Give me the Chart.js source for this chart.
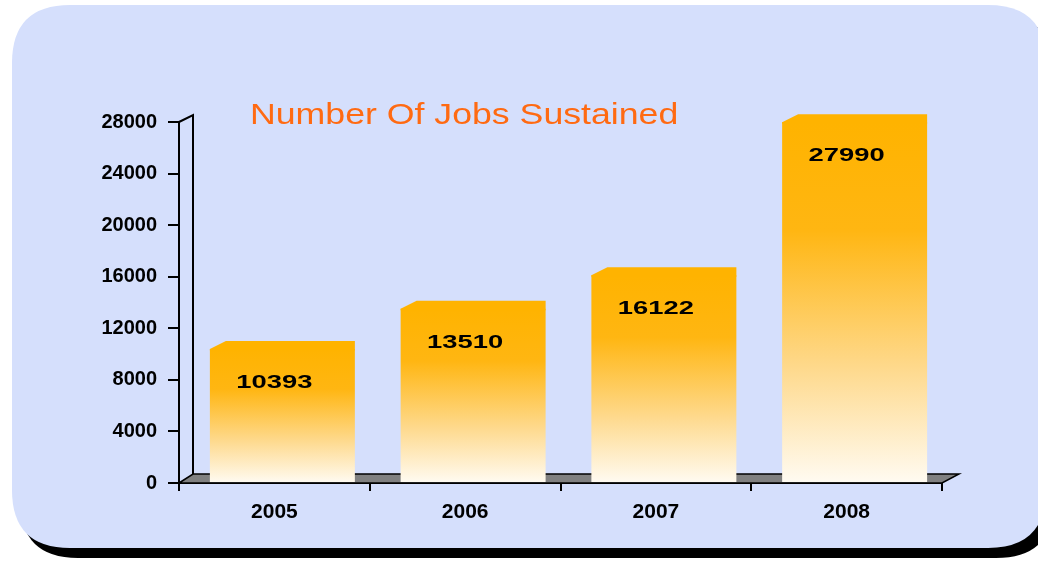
<!DOCTYPE html>
<html>
<head>
<meta charset="utf-8">
<title>Number Of Jobs Sustained</title>
<script src="https://cdn.jsdelivr.net/npm/chart.js@4/dist/chart.umd.min.js"></script>
<style>
  html, body { margin: 0; padding: 0; background: #ffffff; overflow: hidden; }
  canvas { display: block; }
</style>
</head>
<body>
<canvas id="jobsChart" width="1038" height="561"></canvas>
<script>
// chart data
const years = ["2005", "2006", "2007", "2008"];
const jobsSustained = [10393, 13510, 16122, 27990];
const axisMax = 28000;
const axisStep = 4000;

const chartTitle = "Number Of Jobs Sustained";

// depth of the fake 3D floor / wall
const DEPTH_X = 14;
const DEPTH_Y = 9;
const BAR_SHIFT = 8;

function roundRect(ctx, x, y, w, h, r) {
  ctx.beginPath();
  ctx.moveTo(x + r, y);
  ctx.lineTo(x + w - r, y);
  ctx.quadraticCurveTo(x + w, y, x + w, y + r);
  ctx.lineTo(x + w, y + h - r);
  ctx.quadraticCurveTo(x + w, y + h, x + w - r, y + h);
  ctx.lineTo(x + r, y + h);
  ctx.quadraticCurveTo(x, y + h, x, y + h - r);
  ctx.lineTo(x, y + r);
  ctx.quadraticCurveTo(x, y, x + r, y);
  ctx.closePath();
}

const frame3d = {
  id: "frame3d",
  beforeDraw(chart) {
    const ctx = chart.ctx;
    ctx.save();
    // panel with black drop shadow
    ctx.fillStyle = "#000000";
    roundRect(ctx, 20, 15, 1034, 543, 58);
    ctx.fill();
    ctx.fillStyle = "#D5DFFC";
    roundRect(ctx, 12, 5, 1034, 543, 58);
    ctx.fill();

    // title
    ctx.fillStyle = "#FF6A12";
    ctx.font = "29px 'Liberation Sans', Arial, sans-serif";
    ctx.textBaseline = "alphabetic";
    ctx.translate(250, 124);
    ctx.scale(1.23, 1);
    ctx.fillText(chartTitle, 0, 0);
    ctx.restore();
  },
  beforeDatasetsDraw(chart) {
    const ctx = chart.ctx;
    const { left, right, top, bottom } = chart.chartArea;
    ctx.save();
    // floor
    ctx.beginPath();
    ctx.moveTo(left, bottom);
    ctx.lineTo(left + DEPTH_X, bottom - DEPTH_Y);
    ctx.lineTo(right + 17, bottom - DEPTH_Y);
    ctx.lineTo(right, bottom);
    ctx.closePath();
    ctx.fillStyle = "#808080";
    ctx.fill();
    ctx.strokeStyle = "#000000";
    ctx.lineWidth = 1.5;
    ctx.stroke();
    // back wall edge
    ctx.beginPath();
    ctx.moveTo(left, top);
    ctx.lineTo(left + DEPTH_X, top - 7);
    ctx.lineTo(left + DEPTH_X, bottom - DEPTH_Y);
    ctx.lineWidth = 2;
    ctx.stroke();
    ctx.restore();

    // bars sit a little back on the floor
    ctx.save();
    ctx.translate(BAR_SHIFT, 0);
  },
  afterDatasetsDraw(chart) {
    const ctx = chart.ctx;
    const bars = chart.getDatasetMeta(0).data;
    // top faces of the bars
    bars.forEach((bar) => {
      const l = bar.x - bar.width / 2;
      const r = bar.x + bar.width / 2;
      ctx.beginPath();
      ctx.moveTo(l, bar.y + 1.5);
      ctx.lineTo(l, bar.y);
      ctx.lineTo(l + 16, bar.y - 8);
      ctx.lineTo(r, bar.y - 8);
      ctx.lineTo(r, bar.y + 1.5);
      ctx.closePath();
      ctx.fillStyle = "#FFB300";
      ctx.fill();
    });
    ctx.restore();

    // value labels
    ctx.save();
    ctx.fillStyle = "#000000";
    ctx.font = "bold 18px 'Liberation Sans', Arial, sans-serif";
    ctx.textAlign = "center";
    ctx.textBaseline = "middle";
    bars.forEach((bar, i) => {
      ctx.save();
      ctx.translate(bar.x, bar.y + 34);
      ctx.scale(1.52, 1);
      ctx.fillText(String(jobsSustained[i]), 0, 0);
      ctx.restore();
    });
    ctx.restore();
  },
};

const ctxJobs = document.getElementById("jobsChart").getContext("2d");
const jobsChart = new Chart(ctxJobs, {
  type: "bar",
  data: {
    labels: years,
    datasets: [
      {
        label: chartTitle,
        data: jobsSustained,
        backgroundColor: (c) => {
          const chart = c.chart;
          if (!chart.chartArea || c.dataIndex === undefined) return "#FFB300";
          const y = chart.scales.y;
          const top = y.getPixelForValue(jobsSustained[c.dataIndex]);
          const base = y.getPixelForValue(0);
          const g = chart.ctx.createLinearGradient(0, top, 0, base);
          g.addColorStop(0, "#FFB300");
          g.addColorStop(0.3, "#FFB612");
          g.addColorStop(0.68, "#FED98C");
          g.addColorStop(1, "#FFFBF2");
          return g;
        },
        borderWidth: 0,
        categoryPercentage: 1,
        barPercentage: 0.76,
      },
    ],
  },
  options: {
    responsive: false,
    animation: false,
    layout: {
      padding: { left: 0, top: 122, right: 96, bottom: 0 },
    },
    scales: {
      y: {
        min: 0,
        max: axisMax,
        ticks: {
          stepSize: axisStep,
          color: "#000000",
          padding: 11,
          callback: (v) => String(v),
          font: { family: "'Liberation Sans', Arial, sans-serif", size: 20, weight: "bold" },
        },
        grid: {
          drawOnChartArea: false,
          tickLength: 11,
          color: "#000000",
          lineWidth: 2,
        },
        border: { color: "#000000", width: 2 },
        afterFit: (scale) => { scale.width = 179; },
      },
      x: {
        ticks: {
          color: "#000000",
          padding: 9,
          font: { family: "'Liberation Sans', Arial, sans-serif", size: 21, weight: "bold" },
        },
        grid: {
          drawOnChartArea: false,
          offset: true,
          tickLength: 8,
          color: "#000000",
          lineWidth: 2,
        },
        border: { color: "#000000", width: 2 },
        afterFit: (scale) => { scale.height = 78; },
      },
    },
    plugins: {
      legend: { display: false },
      title: { display: false },
      tooltip: { enabled: false },
    },
  },
  plugins: [frame3d],
});
</script>
</body>
</html>
